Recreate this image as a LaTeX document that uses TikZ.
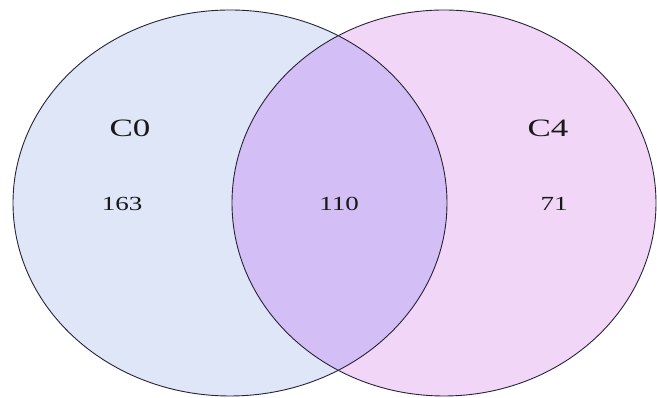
\documentclass[tikz,border=0pt]{standalone}
\usepackage{fontspec}
\setmainfont{Liberation Serif}
\definecolor{setA}{RGB}{222,230,248}
\definecolor{setB}{RGB}{242,214,248}
\definecolor{setAB}{RGB}{211,190,245}
\definecolor{edge}{RGB}{40,35,55}
\tikzset{
  setlabel/.style={font=\fontsize{25}{27}\selectfont, text=black!90, xscale=1.4, transform shape},
  count/.style={font=\fontsize{20}{22}\selectfont, text=black!90, xscale=1.35, transform shape},
}
\begin{document}
\begin{tikzpicture}[x=1pt,y=1pt]
\useasboundingbox (0,0) rectangle (657,398);
\fill[white] (0,0) rectangle (657,398);
\fill[setA] (230,195) ellipse [x radius=217, y radius=193];
\fill[setB] (444,195) ellipse [x radius=212, y radius=193];
\begin{scope}
  \clip (230,195) ellipse [x radius=217, y radius=193];
  \fill[setAB] (444,195) ellipse [x radius=212, y radius=193];
\end{scope}
\draw[edge, line width=0.9pt] (230,195) ellipse [x radius=217, y radius=193];
\draw[edge, line width=0.9pt] (444,195) ellipse [x radius=212, y radius=193];
\node[setlabel] (c0) at (130,270) {C0};
\node[setlabel] (c4) at (548,270) {C4};
\node[count] (n163) at (122,194) {163};
\node[count] (n110) at (339,194) {110};
\node[count] (n71) at (554,194) {71};
\end{tikzpicture}
\end{document}
